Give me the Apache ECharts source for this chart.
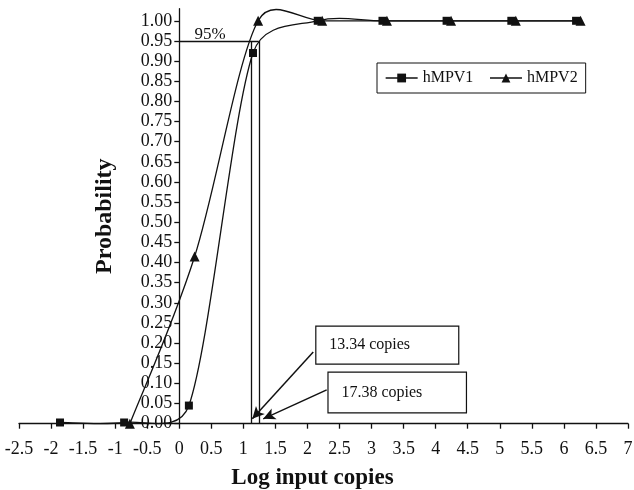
<!DOCTYPE html>
<html>
<head>
<meta charset="utf-8">
<script src="https://cdn.jsdelivr.net/npm/echarts@6/dist/echarts.min.js"></script>
<style>
  html, body { margin: 0; padding: 0; background: #fff; }
  #chart { width: 634px; height: 490px; }
</style>
</head>
<body>
<div id="chart"></div>
<script>
// Detection probability vs log input copies
const hmpv1X = [-1.86, -0.86, 0.15, 1.15, 2.16, 3.17, 4.17, 5.18, 6.19];
const hmpv1Y = [0.003, 0.003, 0.045, 0.92, 1.00, 1.00, 1.00, 1.00, 1.00];
const hmpv2X = [-0.77, 0.24, 1.23, 2.23, 3.24, 4.24, 5.25, 6.26];
const hmpv2Y = [0.00, 0.415, 1.00, 1.00, 1.00, 1.00, 1.00, 1.00];

// 95% cut-off lines (log10 of 13.34 and 17.38 copies)
const cutoffLevel = 0.95;
const cutoffX = [1.125, 1.24];

// Y tick labels
const yTicks = [0, 0.05, 0.10, 0.15, 0.20, 0.25, 0.30, 0.35, 0.40, 0.45, 0.50,
                0.55, 0.60, 0.65, 0.70, 0.75, 0.80, 0.85, 0.90, 0.95, 1.00];

// Callout boxes: [x1, y1, x2, y2, text]
const boxes = [
    [2.13, 0.242, 4.36, 0.148, '13.34 copies'],
    [2.32, 0.128, 4.48, 0.027, '17.38 copies']
];
// Arrows: [fromX, fromY, toX, toY]
const arrows = [
    [2.09, 0.178, 1.14, 0.012],
    [2.30, 0.084, 1.31, 0.012]
];

const serif = '"Liberation Serif", "DejaVu Serif", serif';
const ink = '#111';

function zip(xs, ys) {
    return xs.map((x, i) => [x, ys[i]]);
}

// Spreadsheet-style smoothed segment between point i and i+1 (pixel space)
function tangent(a, b, segLen) {
    let tx = (b[0] - a[0]) / 6;
    let ty = (b[1] - a[1]) / 6;
    const len = Math.sqrt(tx * tx + ty * ty);
    const cap = segLen * 0.45;
    if (len > cap && len > 0) {
        tx = tx * cap / len;
        ty = ty * cap / len;
    }
    return [tx, ty];
}

function smoothCurve(xs, ys) {
    return function (params, api) {
        const i = params.dataIndex;
        if (i >= xs.length - 1) return null;
        const pts = xs.map((x, k) => api.coord([x, ys[k]]));
        const p0 = pts[i - 1] || pts[i];
        const p1 = pts[i];
        const p2 = pts[i + 1];
        const p3 = pts[i + 2] || pts[i + 1];
        const segLen = Math.hypot(p2[0] - p1[0], p2[1] - p1[1]);
        const t1 = tangent(p0, p2, segLen);
        const t2 = tangent(p1, p3, segLen);
        return {
            type: 'bezierCurve',
            shape: {
                x1: p1[0], y1: p1[1],
                x2: p2[0], y2: p2[1],
                cpx1: p1[0] + t1[0], cpy1: p1[1] + t1[1],
                cpx2: p2[0] - t2[0], cpy2: p2[1] - t2[1]
            },
            style: { stroke: ink, lineWidth: 1.3, fill: null }
        };
    };
}

const chart = echarts.init(document.getElementById('chart'));
chart.setOption({
    animation: false,
    backgroundColor: '#fff',
    grid: { left: 19, right: 6, top: 8.7, bottom: 66.3, containLabel: false, outerBoundsMode: 'none' },
    legend: {
        data: ['hMPV1', 'hMPV2'],
        left: 377,
        top: 63,
        width: 210,
        padding: [7, 8, 7, 8],
        itemGap: 16,
        itemWidth: 32,
        itemHeight: 11,
        borderColor: ink,
        borderWidth: 1,
        lineStyle: { color: ink, width: 1.3, opacity: 1 },
        textStyle: { fontFamily: serif, fontSize: 16, color: ink }
    },
    xAxis: {
        type: 'value',
        min: -2.5,
        max: 7,
        interval: 0.5,
        splitLine: { show: false },
        axisLine: { onZero: true, lineStyle: { color: ink, width: 1.3 } },
        axisTick: { length: 5, lineStyle: { color: ink, width: 1.3 } },
        axisLabel: {
            margin: 17,
            fontFamily: serif,
            fontSize: 18,
            color: ink,
            formatter: v => String(v)
        },
        name: 'Log input copies',
        nameLocation: 'middle',
        nameGap: 43,
        nameTextStyle: { fontFamily: serif, fontSize: 23, fontWeight: 'bold', color: ink, padding: [0, 22, 0, 0] }
    },
    yAxis: {
        type: 'value',
        position: 'left',
        offset: -160.3,
        min: 0,
        max: 1.03,
        splitLine: { show: false },
        axisLine: { onZero: false, lineStyle: { color: ink, width: 1.3 } },
        axisTick: { length: 5, customValues: yTicks, lineStyle: { color: ink, width: 1.3 } },
        axisLabel: {
            customValues: yTicks,
            margin: 7,
            fontFamily: serif,
            fontSize: 18,
            color: ink,
            formatter: v => v.toFixed(2)
        },
        name: 'Probability',
        nameLocation: 'middle',
        nameRotate: 90,
        nameGap: 63,
        nameTextStyle: { fontFamily: serif, fontSize: 24, fontWeight: 'bold', color: ink }
    },
    series: [
        {
            name: 'hMPV1',
            type: 'line',
            data: zip(hmpv1X, hmpv1Y),
            symbol: 'rect',
            symbolSize: 8,
            showAllSymbol: true,
            lineStyle: { color: ink, width: 1.3, opacity: 0 },
            itemStyle: { color: ink },
            z: 5
        },
        {
            name: 'hMPV2',
            type: 'line',
            data: zip(hmpv2X, hmpv2Y),
            symbol: 'triangle',
            symbolSize: 10,
            showAllSymbol: true,
            lineStyle: { color: ink, width: 1.3, opacity: 0 },
            itemStyle: { color: ink },
            z: 5
        },
        {
            type: 'custom',
            silent: true,
            data: zip(hmpv1X, hmpv1Y),
            encode: { x: 0, y: 1 },
            renderItem: smoothCurve(hmpv1X, hmpv1Y),
            clip: false,
            z: 3
        },
        {
            type: 'custom',
            silent: true,
            data: zip(hmpv2X, hmpv2Y),
            encode: { x: 0, y: 1 },
            renderItem: smoothCurve(hmpv2X, hmpv2Y),
            clip: false,
            z: 3
        },
        {
            // cut-off guide lines, 95% label and callouts
            type: 'line',
            data: [],
            silent: true,
            markLine: {
                silent: true,
                symbol: ['none', 'none'],
                label: { show: false },
                lineStyle: { color: ink, width: 1.3, type: 'solid' },
                data: [
                    [{ coord: [0, cutoffLevel] }, { coord: [cutoffX[1], cutoffLevel] }],
                    [{ coord: [cutoffX[0], 0] }, { coord: [cutoffX[0], cutoffLevel] }],
                    [{ coord: [cutoffX[1], 0] }, { coord: [cutoffX[1], cutoffLevel] }]
                ]
            },
            markPoint: {
                silent: true,
                symbol: 'circle',
                symbolSize: 0,
                label: {
                    show: true,
                    position: 'inside',
                    formatter: '95%',
                    fontFamily: serif,
                    fontSize: 17,
                    color: ink
                },
                data: [{ coord: [0.48, 0.966] }]
            },
            markArea: {
                silent: true,
                itemStyle: { color: '#fff', borderColor: ink, borderWidth: 1.2 },
                label: {
                    show: true,
                    position: 'insideLeft',
                    distance: 14,
                    fontFamily: serif,
                    fontSize: 16,
                    color: ink
                },
                data: boxes.map(b => [
                    { name: b[4], coord: [b[0], b[1]] },
                    { coord: [b[2], b[3]] }
                ])
            },
            z: 2
        },
        {
            type: 'line',
            data: [],
            silent: true,
            markLine: {
                silent: true,
                symbol: ['none', 'arrow'],
                symbolSize: [9, 12],
                label: { show: false },
                lineStyle: { color: ink, width: 1.5, type: 'solid' },
                data: arrows.map(a => [{ coord: [a[0], a[1]] }, { coord: [a[2], a[3]] }])
            },
            z: 4
        }
    ]
});
</script>
</body>
</html>
